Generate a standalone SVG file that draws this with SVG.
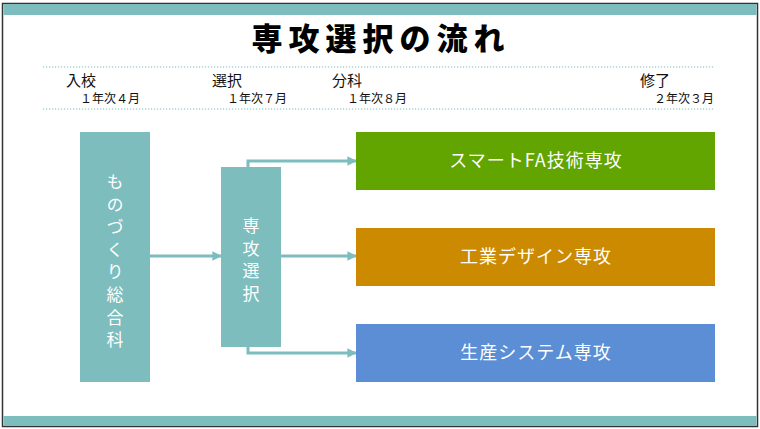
<svg xmlns="http://www.w3.org/2000/svg" width="760" height="429" viewBox="0 0 760 429">
<style>
.t{font-family:"Noto Sans CJK JP","Noto Sans",sans-serif;}
.box{fill:#7dbdbe;}
.wt{fill:#ffffff;font-size:18px;text-anchor:middle;letter-spacing:1px;}
.vt{fill:#ffffff;font-size:17px;writing-mode:vertical-rl;letter-spacing:5.6px;}
.lbl{fill:#111;font-size:15px;}
.sub{fill:#111;font-size:12px;}
.dot{stroke:#7dbdbe;stroke-width:1.2;stroke-dasharray:1.2 1.8;fill:none;}
.con{stroke:#7dbdbe;stroke-width:3;fill:none;marker-end:url(#ah);}
</style>
<defs>
<marker id="ah" viewBox="0 0 10 10" refX="9" refY="5" markerWidth="3.2" markerHeight="3.2" orient="auto" markerUnits="strokeWidth">
<path d="M0,0 L10,5 L0,10 Z" fill="#7dbdbe"/>
</marker>
</defs>
<rect x="0" y="0" width="760" height="429" fill="#ffffff"/>
<rect x="2.5" y="3.5" width="755" height="423" fill="#ffffff" stroke="#333" stroke-width="1.5"/>
<rect x="3.5" y="4" width="753" height="11" fill="#7dbdbe"/>
<rect x="3.5" y="416" width="753" height="10" fill="#7dbdbe"/>
<text class="t" x="381" y="50" font-size="31" font-weight="900" text-anchor="middle" letter-spacing="6" fill="#000">専攻選択の流れ</text>
<line class="dot" x1="43" y1="67" x2="715" y2="67"/>
<line class="dot" x1="43" y1="109" x2="715" y2="109"/>
<g id="timeline" class="t">
<text class="lbl" x="66" y="86">入校</text>
<text class="sub" x="80" y="103">１年次４月</text>
<text class="lbl" x="212" y="86">選択</text>
<text class="sub" x="227" y="103">１年次７月</text>
<text class="lbl" x="332" y="86">分科</text>
<text class="sub" x="347" y="103">１年次８月</text>
<text class="lbl" x="640" y="86">修了</text>
<text class="sub" x="654" y="103">２年次３月</text>
</g>
<g id="connectors">
<path class="con" d="M150,256 H221"/>
<path class="con" d="M281,256 H356"/>
<path class="con" d="M248,167 V161 H356"/>
<path class="con" d="M248,347 V353 H356"/>
</g>
<g id="monozukuri" class="t">
<rect class="box" x="80" y="132" width="70" height="250"/>
<text class="vt" x="115" y="173">ものづくり総合科</text>
</g>
<g id="senkou" class="t">
<rect class="box" x="221" y="167" width="60" height="180"/>
<text class="vt" x="251" y="217">専攻選択</text>
</g>
<g id="smartfa" class="t">
<rect x="356" y="132" width="359" height="58" fill="#62a400"/>
<text class="wt" x="536" y="167">スマートFA技術専攻</text>
</g>
<g id="design" class="t">
<rect x="356" y="228" width="359" height="58" fill="#cc8a00"/>
<text class="wt" x="536" y="263">工業デザイン専攻</text>
</g>
<g id="system" class="t">
<rect x="356" y="324" width="359" height="58" fill="#5b8ed5"/>
<text class="wt" x="536" y="359">生産システム専攻</text>
</g>
</svg>
